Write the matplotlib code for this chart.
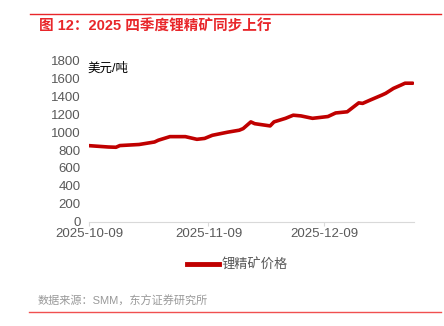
import matplotlib
matplotlib.use("Agg")
import matplotlib.pyplot as plt
import matplotlib.dates as mdates
from matplotlib.lines import Line2D
import pandas as pd

plt.rcParams["font.family"] = ["Liberation Sans", "Noto Sans CJK SC", "DejaVu Sans"]

TITLE = "图 12：2025 四季度锂精矿同步上行"
SOURCE = "数据来源：SMM，东方证券研究所"
UNIT = "美元/吨"
SERIES_NAME = "锂精矿价格"

dates = [
    "2025-10-09", "2025-10-14", "2025-10-16", "2025-10-17", "2025-10-22",
    "2025-10-26", "2025-10-27", "2025-10-30", "2025-11-03", "2025-11-06",
    "2025-11-08", "2025-11-10", "2025-11-14", "2025-11-17", "2025-11-18",
    "2025-11-20", "2025-11-21", "2025-11-25", "2025-11-26", "2025-11-29",
    "2025-12-01", "2025-12-03", "2025-12-06", "2025-12-10", "2025-12-12",
    "2025-12-15", "2025-12-18", "2025-12-19", "2025-12-21", "2025-12-24",
    "2025-12-25", "2025-12-27", "2025-12-29", "2025-12-30", "2026-01-01",
]
prices = [
    849, 834, 831, 850, 862,
    890, 910, 950, 950, 920,
    930, 965, 1000, 1022, 1040,
    1115, 1095, 1070, 1115, 1155,
    1190, 1182, 1155, 1175, 1215,
    1228, 1328, 1322, 1360, 1415,
    1435, 1490, 1528, 1548, 1548,
]
tick_dates = ["2025-10-09", "2025-11-09", "2025-12-09"]

RED = "#e8262a"
LINE = "#c00000"
GREY = "#595959"

x = pd.to_datetime(dates)

fig = plt.figure(figsize=(4.44, 3.26), dpi=100)
ax = fig.add_axes([89 / 444, 1 - 221.5 / 326, (414 - 89) / 444, (221.5 - 60.7) / 326])

ax.plot(x, prices, color=LINE, linewidth=2.6, solid_capstyle="round")

ax.set_xlim(pd.Timestamp("2025-10-09"), pd.Timestamp("2026-01-01 08:00"))
ax.set_ylim(0, 1800)
ax.set_yticks(range(0, 1801, 200))
ax.set_xticks(pd.to_datetime(tick_dates))
ax.xaxis.set_major_formatter(mdates.DateFormatter("%Y-%m-%d"))

for s in ["top", "right", "left"]:
    ax.spines[s].set_visible(False)
ax.spines["bottom"].set_color("#d9d9d9")
ax.spines["bottom"].set_linewidth(0.8)
ax.tick_params(axis="y", length=0, labelsize=9.5, labelcolor=GREY, pad=6)
ax.tick_params(axis="x", length=3, color="#d9d9d9", labelsize=9.5, labelcolor=GREY, pad=2)

fig.text(87 / 444, 1 - 69 / 326, UNIT, fontsize=9, color="black", va="center", ha="left")

# header / footer rules
fig.add_artist(Line2D([30 / 444, 441 / 444], [1 - 14 / 326] * 2, color=RED, linewidth=1))
fig.add_artist(Line2D([29 / 444, 441 / 444], [1 - 312 / 326] * 2, color="#f05050", linewidth=1))
fig.text(39 / 444, 1 - 26 / 326, TITLE, fontsize=10.5, color=RED, fontweight="bold",
         va="center", ha="left")
fig.text(38 / 444, 1 - 301 / 326, SOURCE, fontsize=8, color="#999999", va="center", ha="left")

handle = Line2D([0], [0], color=LINE, linewidth=3.5)
fig.legend([handle], [SERIES_NAME], loc="center", bbox_to_anchor=(0.535, 1 - 265 / 326),
           frameon=False, fontsize=9.5, handlelength=2.4, handletextpad=0.2,
           labelcolor=GREY)

fig.savefig("out.png", dpi=100)
